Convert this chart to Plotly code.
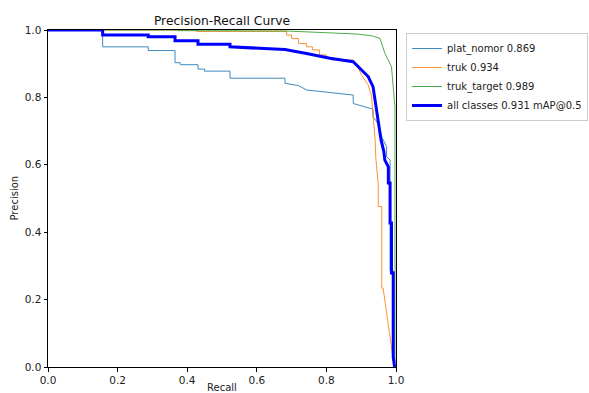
import plotly.graph_objects as go

# --- data (recall, precision), step corners included ---
plat_nomor_recall = [0, 0.157, 0.157, 0.288, 0.288, 0.365, 0.365, 0.38, 0.38, 0.431, 0.431, 0.45, 0.45,
                     0.523, 0.523, 0.681, 0.681, 0.72, 0.743, 0.80, 0.877, 0.877, 0.90, 0.925, 0.934, 0.934,
                     0.95, 0.96, 0.973, 0.973, 0.983, 0.983, 0.983, 0.993, 0.993]
plat_nomor_precision = [1, 1, 0.950, 0.950, 0.939, 0.939, 0.903, 0.903, 0.897, 0.897, 0.884, 0.884, 0.878,
                        0.878, 0.857, 0.857, 0.842, 0.835, 0.822, 0.815, 0.807, 0.782, 0.776, 0.768, 0.765, 0.743,
                        0.72, 0.68, 0.654, 0.624, 0.614, 0.594, 0.285, 0.285, 0.0]

truk_recall = [0, 0.427, 0.427, 0.686, 0.686, 0.70, 0.70, 0.72, 0.72, 0.743, 0.743, 0.76, 0.76, 0.78, 0.78,
               0.80, 0.80, 0.815, 0.815, 0.877, 0.89, 0.901, 0.920, 0.930, 0.935, 0.940, 0.942, 0.948,
               0.949, 0.949, 0.959, 0.959, 0.963, 0.995]
truk_precision = [1, 1, 0.996, 0.996, 0.985, 0.985, 0.975, 0.975, 0.960, 0.960, 0.950, 0.950, 0.941, 0.941,
                  0.926, 0.926, 0.918, 0.918, 0.911, 0.911, 0.891, 0.866, 0.837, 0.802, 0.733, 0.674, 0.62,
                  0.54, 0.54, 0.476, 0.476, 0.234, 0.234, 0.0]

truk_target_recall = [0, 0.374, 0.374, 0.686, 0.743, 0.81, 0.887, 0.93, 0.954, 0.968, 0.978, 0.987,
                      0.992, 0.997, 0.997]
truk_target_precision = [1, 1, 0.998, 0.997, 0.995, 0.992, 0.988, 0.983, 0.975, 0.931, 0.911, 0.891,
                         0.831, 0.772, 0.0]

all_recall = [0, 0.157, 0.157, 0.288, 0.288, 0.365, 0.365, 0.431, 0.431, 0.523, 0.523, 0.681, 0.743,
              0.81, 0.877, 0.898, 0.92, 0.934, 0.94, 0.948, 0.957, 0.965, 0.968, 0.978, 0.978, 0.983,
              0.983, 0.987, 0.987, 0.992, 0.992, 0.996]
all_precision = [1, 1, 0.985, 0.985, 0.98, 0.98, 0.968, 0.968, 0.958, 0.958, 0.95, 0.942, 0.930, 0.916,
                 0.906, 0.886, 0.862, 0.832, 0.792, 0.743, 0.674, 0.64, 0.614, 0.594, 0.546, 0.546, 0.427,
                 0.427, 0.279, 0.279, 0.03, 0.0]

labels = ["plat_nomor 0.869", "truk 0.934", "truk_target 0.989", "all classes 0.931 mAP@0.5"]
tick_vals = [0.0, 0.2, 0.4, 0.6, 0.8, 1.0]

FONT = "DejaVu Sans"

fig = go.Figure()
series = [
    (plat_nomor_recall, plat_nomor_precision, "#1f77b4", 1),
    (truk_recall, truk_precision, "#ff7f0e", 1),
    (truk_target_recall, truk_target_precision, "#2ca02c", 1),
    (all_recall, all_precision, "#0000ff", 3),
]
for (r, p, c, w), lab in zip(series, labels):
    fig.add_trace(go.Scatter(x=r, y=p, mode="lines", name=lab,
                             line=dict(color=c, width=w), opacity=0.85 if w == 1 else 1))

axis_common = dict(range=[0, 1], showline=True, linecolor="#000000", linewidth=1, mirror=True,
                   ticks="outside", ticklen=3.5, tickwidth=1, tickcolor="#000000",
                   tickvals=tick_vals, tickformat=".1f", showgrid=False, zeroline=False,
                   automargin=False,
                   tickfont=dict(family=FONT, size=10.5, color="#222222"))

fig.update_layout(
    width=589, height=393,
    margin=dict(l=48, r=193, t=30, b=26, autoexpand=False),
    paper_bgcolor="white", plot_bgcolor="white",
    font=dict(family=FONT, size=10, color="#222222"),
    title=dict(text="Precision-Recall Curve", x=0.5, xref="paper", y=1 - 21 / 393,
               yref="container", yanchor="middle", xanchor="center",
               font=dict(family=FONT, size=12.3, color="#111111")),
    xaxis=axis_common,
    yaxis=axis_common,
    legend=dict(x=(406 - 48) / 348, y=1 - 3 / 337, xanchor="left", yanchor="top", bordercolor="#cccccc",
                borderwidth=1, bgcolor="white", font=dict(family=FONT, size=10, color="#222222"),
                tracegroupgap=0, itemwidth=30),
    showlegend=True,
    annotations=[
        dict(text="Recall", x=0.5, y=0, xref="paper", yref="paper", xanchor="center", yanchor="top",
             yshift=-13, showarrow=False, font=dict(family=FONT, size=10, color="#222222")),
        dict(text="Precision", x=0, y=0.5, xref="paper", yref="paper", xanchor="center", yanchor="middle",
             xshift=-34, textangle=-90, showarrow=False, font=dict(family=FONT, size=10, color="#222222")),
    ],
)

fig.write_html("out.html", config={"displayModeBar": False},
               post_script="document.body.style.margin='0';document.body.style.padding='0';")
